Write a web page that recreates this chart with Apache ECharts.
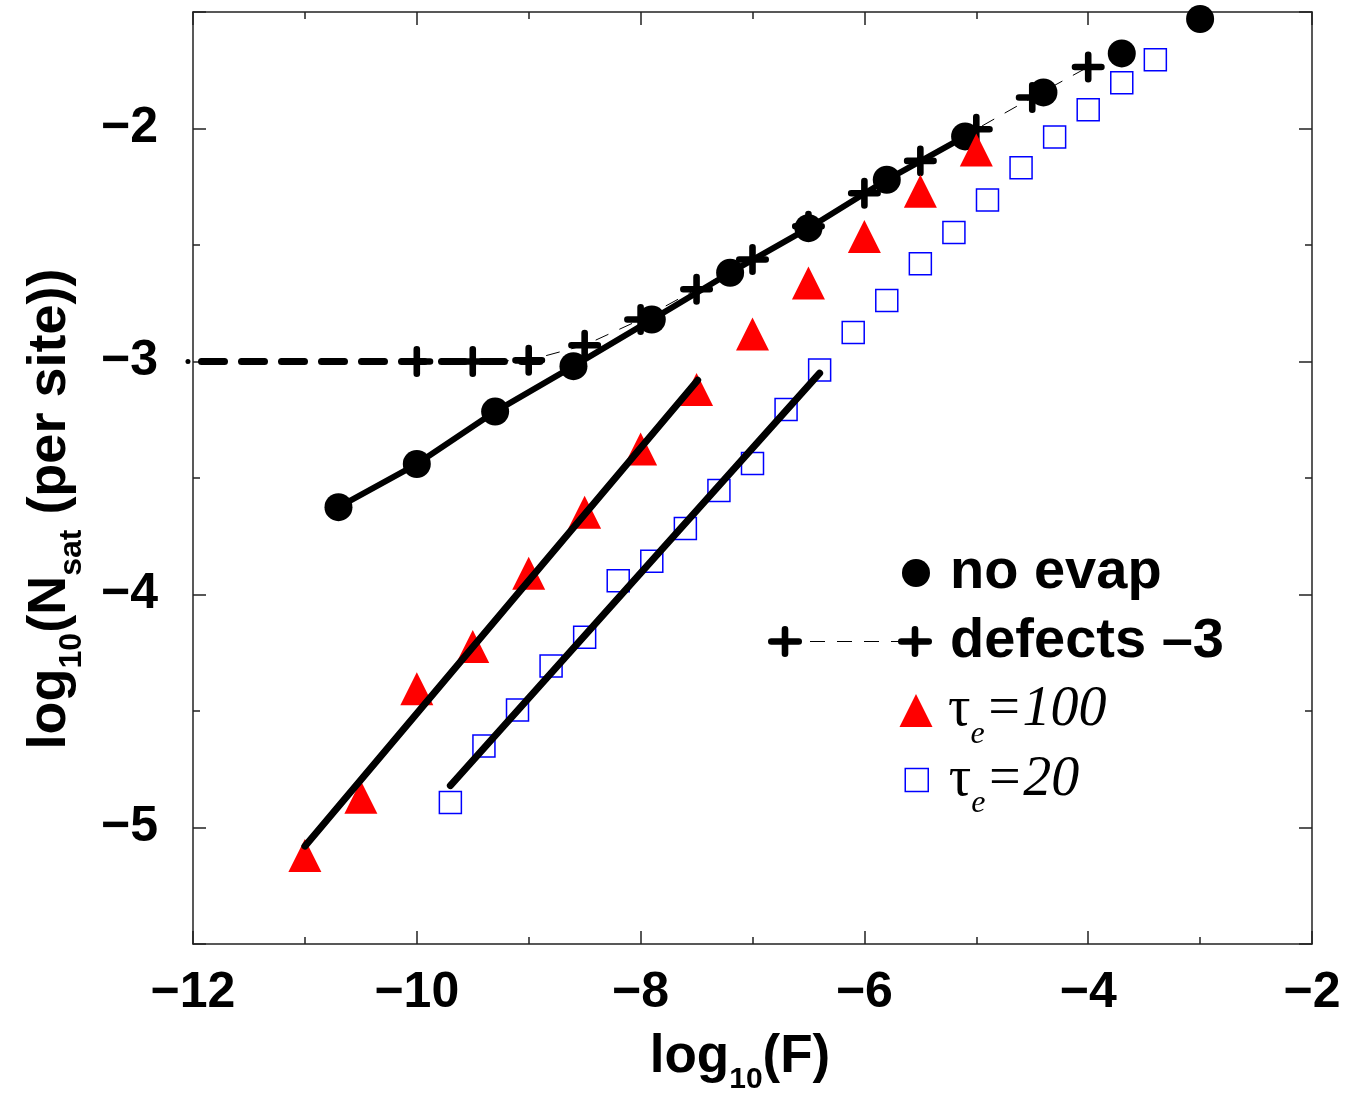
<!DOCTYPE html>
<html><head><meta charset="utf-8">
<script src="https://cdn.jsdelivr.net/npm/echarts@6/dist/echarts.min.js"></script>
<style>html,body{margin:0;padding:0;background:#fff}#c{width:1352px;height:1105px}</style>
</head><body><div id="c"></div>
<script>
// ---------- data ----------
const xTickValues = [-12, -10, -8, -6, -4, -2];
const yTickValues = [-5, -4, -3, -2];

const noEvap = [[-10.7,-3.625],[-10.0,-3.44],[-9.3,-3.215],[-8.6,-3.02],[-7.9,-2.82],[-7.2,-2.619],
  [-6.5,-2.428],[-5.8,-2.22],[-5.1,-2.034],[-4.4,-1.845],[-3.7,-1.678],[-3.0,-1.53]];
const noEvapLineCount = 9; // solid line joins the first 9 circles

const defects = [[-10,-3.0],[-9.5,-3.0],[-9,-2.995],[-8.5,-2.93],[-8,-2.82],[-7.5,-2.69],[-7,-2.562],
  [-6.5,-2.42],[-6,-2.278],[-5.5,-2.139],[-5,-2.003],[-4.5,-1.867],[-4,-1.736]];
const defectsLevel = [[-12,-3],[-8.9,-3]];
const defectsDot = [[-12.045,-3]];

const tau100 = [[-11,-5.12],[-10.5,-4.87],[-10,-4.405],[-9.5,-4.223],[-9,-3.909],[-8.5,-3.647],
  [-8,-3.375],[-7.5,-3.12],[-7,-2.882],[-6.5,-2.663],[-6,-2.463],[-5.5,-2.269],[-5,-2.092]];
const tau20 = [[-9.7,-4.893],[-9.4,-4.65],[-9.1,-4.496],[-8.8,-4.307],[-8.5,-4.183],[-8.2,-3.941],
  [-7.9,-3.857],[-7.6,-3.717],[-7.3,-3.554],[-7.0,-3.438],[-6.7,-3.206],[-6.4,-3.036],[-6.1,-2.875],
  [-5.8,-2.738],[-5.5,-2.58],[-5.2,-2.446],[-4.9,-2.307],[-4.6,-2.168],[-4.3,-2.036],[-4.0,-1.92],
  [-3.7,-1.804],[-3.4,-1.705]];
const fit100 = [[-11.0,-5.08],[-7.49,-3.08]];
const fit20 = [[-9.7,-4.82],[-6.4,-3.05]];

const names = { noEvap: 'no evap', defects: 'defects \u20133', tau100: '\u03c4e=100', tau20: '\u03c4e=20' };

// ---------- styling helpers ----------
function plusPath(cx, cy, hw, hh, t) {
  const r = t;
  return `M${cx-t},${cy-hh+r}A${r},${r} 0 0 1 ${cx+t},${cy-hh+r}V${cy-t}H${cx+hw-r}` +
    `A${r},${r} 0 0 1 ${cx+hw-r},${cy+t}H${cx+t}V${cy+hh-r}A${r},${r} 0 0 1 ${cx-t},${cy+hh-r}` +
    `V${cy+t}H${cx-hw+r}A${r},${r} 0 0 1 ${cx-hw+r},${cy-t}H${cx-t}Z`;
}
const plusSymbol = 'path://' + plusPath(16.5, 15.5, 16.5, 15.5, 3.3);
let legendPlus = 'path://' + plusPath(17, 15.5, 17, 15.5, 3.3) + plusPath(147, 15.5, 17, 15.5, 3.3);
[[42,57],[69,84],[96,111],[123,131]].forEach(d => { legendPlus += `M${d[0]},14.9H${d[1]}V16.1H${d[0]}Z`; });

const fmt = v => (v < 0 ? '\u2212' : '') + Math.abs(v);
const frame = { color: '#222', width: 1.5 };
const sans = 'Liberation Sans';
const serif = 'Liberation Serif';

function baseX(extra) {
  return Object.assign({
    type: 'value', min: -12, max: -2, interval: 2,
    axisLine: { show: true, onZero: false, lineStyle: frame },
    axisTick: { show: true, inside: true, length: 13, lineStyle: frame },
    minorTick: { show: true, splitNumber: 2, length: 7, lineStyle: frame },
    splitLine: { show: false }, minorSplitLine: { show: false }
  }, extra);
}
function baseY(extra) {
  return Object.assign({
    type: 'value', min: -5.5, max: -1.5, splitNumber: 4,
    axisLine: { show: true, onZero: false, lineStyle: frame },
    axisTick: { show: true, inside: true, length: 13, lineStyle: frame },
    minorTick: { show: true, splitNumber: 2, length: 7, lineStyle: frame },
    splitLine: { show: false }, minorSplitLine: { show: false }
  }, extra);
}
const tickFont = { fontSize: 50, fontWeight: 'bold', fontFamily: sans, color: '#000' };
const tauRich = {
  t: { fontFamily: serif, fontSize: 56, lineHeight: 56, color: '#000' },
  e: { fontFamily: serif, fontStyle: 'italic', fontSize: 32, lineHeight: 32, padding: [48, 0, 0, 0], color: '#000' },
  n: { fontFamily: serif, fontStyle: 'italic', fontSize: 56, lineHeight: 56, color: '#000' }
};
const boldLegendText = { fontFamily: sans, fontWeight: 'bold', fontSize: 56, lineHeight: 56, color: '#000' };

const chart = echarts.init(document.getElementById('c'), null, { renderer: 'canvas' });
chart.setOption({
  animation: false,
  backgroundColor: '#fff',
  grid: { left: 193, right: 40, top: 12, bottom: 161, containLabel: false, outerBoundsMode: 'none' },
  xAxis: [
    baseX({
      position: 'bottom',
      axisLabel: Object.assign({ margin: 24, formatter: v => xTickValues.includes(v) ? fmt(v) : '' }, tickFont),
      name: '{a|log}{b|10}{a|(F)}', nameLocation: 'middle', nameGap: 87, nameMoveOverlap: false,
      nameTextStyle: {
        padding: [0, 25, 0, 0],
        rich: {
          a: { fontFamily: sans, fontWeight: 'bold', fontSize: 53, lineHeight: 53, color: '#000' },
          b: { fontFamily: sans, fontWeight: 'bold', fontSize: 30, lineHeight: 30, padding: [44, 0, 0, 0], color: '#000' }
        }
      }
    }),
    baseX({ position: 'top', axisLabel: { show: false } })
  ],
  yAxis: [
    baseY({
      position: 'left',
      axisLabel: Object.assign({ margin: 35, formatter: v => yTickValues.includes(v) ? fmt(v) : '' }, tickFont),
      name: '{a|log}{b|10}{a|(N}{b|sat}{a| (per site))}', nameLocation: 'middle', nameGap: 116, nameMoveOverlap: false,
      nameTextStyle: {
        padding: [0, 62, 0, 0],
        rich: {
          a: { fontFamily: sans, fontWeight: 'bold', fontSize: 54, lineHeight: 54, color: '#000' },
          b: { fontFamily: sans, fontWeight: 'bold', fontSize: 32, lineHeight: 32, padding: [45, 0, 0, 0], color: '#000' }
        }
      }
    }),
    baseY({ position: 'right', axisLabel: { show: false } })
  ],
  legend: [
    { data: [{ name: names.noEvap, icon: 'circle' }], left: 902, top: 545, orient: 'vertical', padding: 0,
      itemWidth: 28, itemHeight: 28, selectedMode: false, itemStyle: { opacity: 1 },
      textStyle: Object.assign({ padding: [0, 0, 0, 15] }, boldLegendText) },
    { data: [{ name: names.defects, icon: legendPlus }], left: 768, top: 613.5, orient: 'vertical', padding: 0,
      itemWidth: 164, itemHeight: 33, selectedMode: false, itemStyle: { opacity: 1 },
      textStyle: Object.assign({ padding: [0, 0, 0, 13] }, boldLegendText) },
    { data: [{ name: names.tau100, icon: 'triangle' }], left: 899.5, top: 670.5, orient: 'vertical', padding: 0,
      itemWidth: 33, itemHeight: 33, selectedMode: false, itemStyle: { opacity: 1 },
      formatter: '{t|\u03c4}{e|e}{n|=100}',
      textStyle: { padding: [0, 0, 0, 10.5], rich: tauRich } },
    { data: [{ name: names.tau20, icon: 'rect' }], left: 904.5, top: 740, orient: 'vertical', padding: 0,
      itemWidth: 23, itemHeight: 23, selectedMode: false,
      itemStyle: { color: 'rgba(0,0,0,0)', borderColor: '#0000ff', borderWidth: 1.5, opacity: 1 },
      formatter: '{t|\u03c4}{e|e}{n|=20}',
      textStyle: { padding: [0, 0, 0, 15.5], rich: tauRich } }
  ],
  series: [
    { type: 'line', name: 'defects level', data: defectsLevel, symbol: 'none', silent: true, z: 2,
      lineStyle: { color: '#000', width: 7, type: [23, 17], dashOffset: 31.5, cap: 'round' } },
    { type: 'scatter', name: 'defects level start', data: defectsDot, symbol: 'circle', symbolSize: 5,
      itemStyle: { color: '#000', opacity: 1 }, clip: false, silent: true, z: 2 },
    { type: 'line', name: names.defects, data: defects, symbol: plusSymbol, symbolSize: [33, 31], showSymbol: true,
      itemStyle: { color: '#000', opacity: 1 }, lineStyle: { color: '#000', width: 1, type: [14, 12] }, z: 4 },
    { type: 'line', name: 'no evap line', data: noEvap.slice(0, noEvapLineCount), symbol: 'none',
      lineStyle: { color: '#000', width: 6 }, z: 3 },
    { type: 'scatter', name: names.noEvap, data: noEvap, symbol: 'circle', symbolSize: 28,
      itemStyle: { color: '#000', opacity: 1 }, z: 3 },
    { type: 'scatter', name: names.tau100, data: tau100, symbol: 'triangle', symbolSize: [33, 33],
      itemStyle: { color: '#ff0000', opacity: 1 }, z: 5 },
    { type: 'scatter', name: names.tau20, data: tau20, symbol: 'rect', symbolSize: 22,
      itemStyle: { color: 'rgba(0,0,0,0)', borderColor: '#0000ff', borderWidth: 1.5, opacity: 1 }, z: 5 },
    { type: 'line', name: 'fit 100', data: fit100, symbol: 'none', lineStyle: { color: '#000', width: 7, cap: 'round' }, z: 6 },
    { type: 'line', name: 'fit 20', data: fit20, symbol: 'none', lineStyle: { color: '#000', width: 7, cap: 'round' }, z: 6 }
  ]
});
</script>
</body></html>
